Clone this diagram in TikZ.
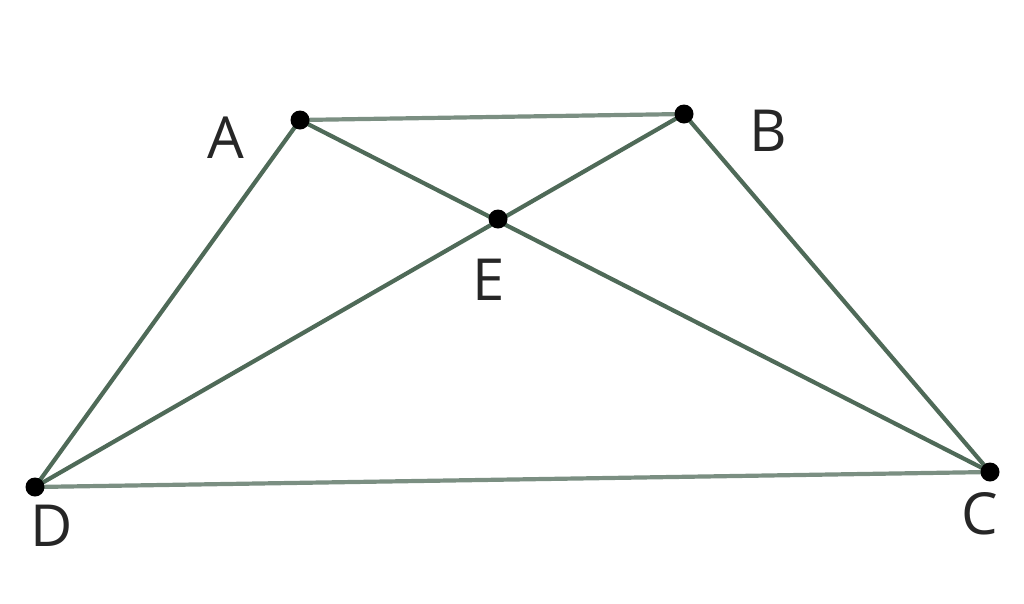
\documentclass[tikz,border=0pt]{standalone}
\usepackage{fontspec}
\setmainfont{Open Sans}
\begin{document}
\begin{tikzpicture}[x=1pt,y=-1pt,
  seg/.style={draw=lc,line width=4.2pt},
  dot/.style={circle,fill=black,inner sep=0pt,minimum size=19pt},
  lab/.style={text=black!85,font=\fontsize{58}{58}\selectfont,inner sep=0pt}]
\definecolor{lc}{HTML}{4F6A58}
\useasboundingbox (0,0) rectangle (1024,603);
\coordinate (A) at (300,120);
\coordinate (B) at (684,114);
\coordinate (E) at (498,219);
\coordinate (D) at (35,487);
\coordinate (C) at (990,472);
\draw[seg,draw=lc!75] (A) -- (B);
\draw[seg,draw=lc!75] (D) -- (C);
\draw[seg] (A) -- (D);
\draw[seg] (B) -- (C);
\draw[seg] (A) -- (C);
\draw[seg] (B) -- (D);
\foreach \p in {A,B,E,D,C} \node[dot] (d\p) at (\p) {};
\node[lab] (lA) at (226,138) {A};
\node[lab] (lB) at (768,131) {B};
\node[lab] (lE) at (489,280) {E};
\node[lab] (lD) at (52,526) {D};
\node[lab] (lC) at (980,514) {C};
\end{tikzpicture}
\end{document}
